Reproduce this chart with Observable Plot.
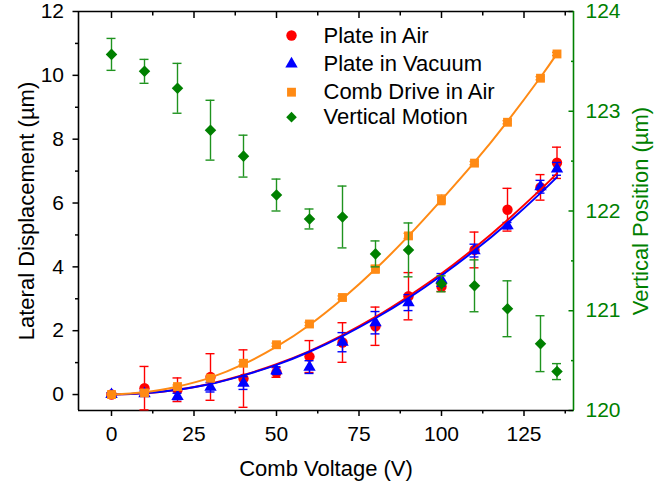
<!DOCTYPE html>
<html><head><meta charset="utf-8">
<script src="https://cdn.jsdelivr.net/npm/d3@7"></script>
<script src="https://cdn.jsdelivr.net/npm/@observablehq/plot@0.6"></script>
<style>body{margin:0;background:#fff} #chart{width:670px;height:487px}</style>
</head><body><div id="chart"></div>
<script>
// ---- data ----
const volts = [0,10,20,30,40,50,60,70,80,90,100,110,120,130,135];
const plateAir      = [0, 0.20, 0.15, 0.55, 0.50, 0.69, 1.19, 1.63, 2.14, 3.08, 3.38, 4.53, 5.79, 6.49, 7.26];
const plateAirErr   = [0.05, 0.68, 0.37, 0.73, 0.90, 0.15, 0.50, 0.62, 0.60, 0.74, 0.15, 0.56, 0.67, 0.40, 0.49];
const plateVac      = [0, 0.03, -0.06, 0.23, 0.36, 0.75, 0.86, 1.64, 2.25, 2.88, 3.59, 4.51, 5.29, 6.51, 7.07];
const plateVacErr   = [0.05, 0.08, 0.10, 0.15, 0.20, 0.12, 0.20, 0.30, 0.35, 0.25, 0.20, 0.20, 0.10, 0.20, 0.20];
const combAir       = [0, 0.05, 0.25, 0.51, 0.98, 1.56, 2.21, 3.04, 3.93, 4.97, 6.10, 7.25, 8.53, 9.91, 10.67];
const combAirErr    = [0.03, 0.03, 0.05, 0.05, 0.05, 0.05, 0.05, 0.05, 0.12, 0.08, 0.15, 0.05, 0.05, 0.05, 0.05];
const vertical      = [123.57, 123.40, 123.23, 122.81, 122.55, 122.16, 121.92, 121.94, 121.57, 121.61, 121.27, 121.25, 121.02, 120.67, 120.39];
const verticalErr   = [0.16, 0.12, 0.25, 0.30, 0.21, 0.16, 0.10, 0.31, 0.13, 0.27, 0.08, 0.26, 0.28, 0.28, 0.08];
// fitted curves, read at the same voltages
const fitPlateAir   = [0, 0.04, 0.15, 0.34, 0.61, 0.95, 1.36, 1.86, 2.43, 3.08, 3.79, 4.59, 5.47, 6.42, 6.93];
const fitPlateVac   = [0, 0.04, 0.15, 0.33, 0.60, 0.93, 1.34, 1.83, 2.39, 3.02, 3.73, 4.51, 5.37, 6.31, 6.81];
const fitCombAir    = [0, 0.07, 0.25, 0.53, 0.95, 1.50, 2.18, 3.00, 3.93, 4.97, 6.10, 7.28, 8.56, 9.94, 10.68];

const xTicks = [0,25,50,75,100,125];
const xMinor = [12.5,37.5,62.5,87.5,112.5,137.5];
const yTicks = [0,2,4,6,8,10,12];
const yMinor = [1,3,5,7,9,11];
const rTicks = [120,121,122,123,124];
const rMinor = [120.5,121.5,122.5,123.5];

const legendNames = ["Plate in Air","Plate in Vacuum","Comb Drive in Air","Vertical Motion"];

// ---- build ----
const RED = "#ff0000", BLUE = "#0000ff", ORANGE = "#ff8a14", GREEN = "#008000", GREENBAR = "#1f931f";
const yDom = [-0.5, 12], rDom = [120, 124];
const toLeft = p => yDom[0] + (p - rDom[0]) * (yDom[1]-yDom[0]) / (rDom[1]-rDom[0]);
const fromLeft = v => rDom[0] + (v - yDom[0]) * (rDom[1]-rDom[0]) / (yDom[1]-yDom[0]);

const rows = (ys, es) => volts.map((v,i) => ({v, y: ys[i], e: es ? es[i] : 0}));
const air = rows(plateAir, plateAirErr);
const vac = rows(plateVac, plateVacErr);
const comb = rows(combAir, combAirErr);
const vert = rows(vertical.map(toLeft), verticalErr.map(e => e*(yDom[1]-yDom[0])/(rDom[1]-rDom[0])));
const fAir = rows(fitPlateAir), fVac = rows(fitPlateVac), fComb = rows(fitCombAir);

function errMarks(data, color, w=1.4) {
  return [
    Plot.ruleX(data, {x:"v", y1: d => d.y - d.e, y2: d => d.y + d.e, stroke: color, strokeWidth: w}),
    Plot.ruleY(data, {x1:"v", x2:"v", y: d => d.y + d.e, stroke: color, strokeWidth: w, insetLeft:-4.5, insetRight:-4.5}),
    Plot.ruleY(data, {x1:"v", x2:"v", y: d => d.y - d.e, stroke: color, strokeWidth: w, insetLeft:-4.5, insetRight:-4.5})
  ];
}

const symbols = [
  {symbol:"circle", r:5.2, fill:RED},
  {symbol:"triangle", r:4.6, fill:BLUE},
  {symbol:"square", r:5.0, fill:ORANGE},
  {symbol:"diamond2", r:4.8, fill:GREEN}
];
const legendY = [24, 52.3, 80.7, 105.7];
const legendMarks = legendNames.flatMap((name, i) => [
  Plot.dot([name], {frameAnchor:"top-left", dx:213, dy:legendY[i], symbol:symbols[i].symbol, r:symbols[i].r, fill:symbols[i].fill, stroke:"none"}),
  Plot.text([name], {frameAnchor:"top-left", dx:245, dy:legendY[i], text:d=>d, textAnchor:"start", lineAnchor:"middle", fontSize:22, fill:"black"})
]);

const FONT = "'Liberation Sans', Arial, Helvetica, sans-serif";
const chart = Plot.plot({
  width: 670, height: 487,
  marginLeft: 78, marginRight: 97, marginTop: 11, marginBottom: 77,
  style: {fontFamily: FONT, fontSize: "21px", background: "white", color: "black"},
  x: {domain: [-10, 140]},
  y: {domain: yDom},
  marks: [
    // axes
    Plot.axisX({ticks: xTicks, tickSize: 6, tickPadding: 10, label: null, fontSize: 21, strokeWidth: 1.5}),
    Plot.axisX({ticks: xMinor, tickSize: 3.5, tickFormat: () => "", label: null, strokeWidth: 1.5}),
    Plot.axisX({anchor: "top", ticks: xTicks, tickSize: -6, tickFormat: () => "", label: null, strokeWidth: 1.5}),
    Plot.axisX({anchor: "top", ticks: xMinor, tickSize: -3.5, tickFormat: () => "", label: null, strokeWidth: 1.5}),
    Plot.axisY({ticks: yTicks, tickSize: 5.5, tickPadding: 9, label: null, fontSize: 21, strokeWidth: 1.5}),
    Plot.axisY({ticks: yMinor, tickSize: 3, tickFormat: () => "", label: null, strokeWidth: 1.5}),
    Plot.axisY({anchor: "right", ticks: rTicks.map(toLeft), tickSize: 0, tickPadding: 12, tickFormat: d => String(Math.round(fromLeft(d))), label: null, fontSize: 21, color: GREEN, fill: GREEN}),
    Plot.axisY({anchor: "right", ticks: rTicks.map(toLeft), tickSize: -5.5, tickFormat: () => "", label: null, color: GREEN, stroke: GREEN, strokeWidth: 1.5}),
    Plot.axisY({anchor: "right", ticks: rMinor.map(toLeft), tickSize: -3, tickFormat: () => "", label: null, color: GREEN, stroke: GREEN, strokeWidth: 1.5}),
    // frame
    Plot.ruleX([-10], {stroke: "black", strokeWidth: 1.6}),
    Plot.ruleY([12], {stroke: "black", strokeWidth: 1.6}),
    Plot.ruleY([-0.5], {stroke: "black", strokeWidth: 1.6}),
    Plot.ruleX([140], {stroke: GREEN, strokeWidth: 1.6}),
    // titles
    Plot.text(["Comb Voltage (V)"], {frameAnchor: "bottom", dy: 58, text: d => d, fontSize: 22, textAnchor: "middle", lineAnchor: "middle", fill: "black"}),
    Plot.text(["Lateral Displacement (µm)"], {frameAnchor: "left", dx: -52, rotate: -90, text: d => d, fontSize: 22, textAnchor: "middle", lineAnchor: "middle", fill: "black"}),
    Plot.text(["Vertical Position (µm)"], {frameAnchor: "right", dx: 67, rotate: -90, text: d => d, fontSize: 22, textAnchor: "middle", lineAnchor: "middle", fill: GREEN}),
    // data
    ...errMarks(air, RED),
    Plot.dot(air, {x: "v", y: "y", symbol: "circle", r: 5.2, fill: RED}),
    ...errMarks(vac, BLUE),
    Plot.dot(vac, {x: "v", y: "y", symbol: "triangle", r: 4.6, fill: BLUE}),
    Plot.line(fAir, {x: "v", y: "y", stroke: RED, strokeWidth: 2, curve: "natural"}),
    Plot.line(fVac, {x: "v", y: "y", stroke: BLUE, strokeWidth: 2, curve: "natural"}),
    ...errMarks(comb, ORANGE),
    Plot.dot(comb, {x: "v", y: "y", symbol: "square", r: 5.0, fill: ORANGE}),
    Plot.line(fComb, {x: "v", y: "y", stroke: ORANGE, strokeWidth: 2, curve: "natural"}),
    ...errMarks(vert, GREENBAR),
    Plot.dot(vert, {x: "v", y: "y", symbol: "diamond2", r: 5.2, fill: GREEN}),
    ...legendMarks
  ]
});
document.getElementById("chart").append(chart);
</script>
</body></html>
